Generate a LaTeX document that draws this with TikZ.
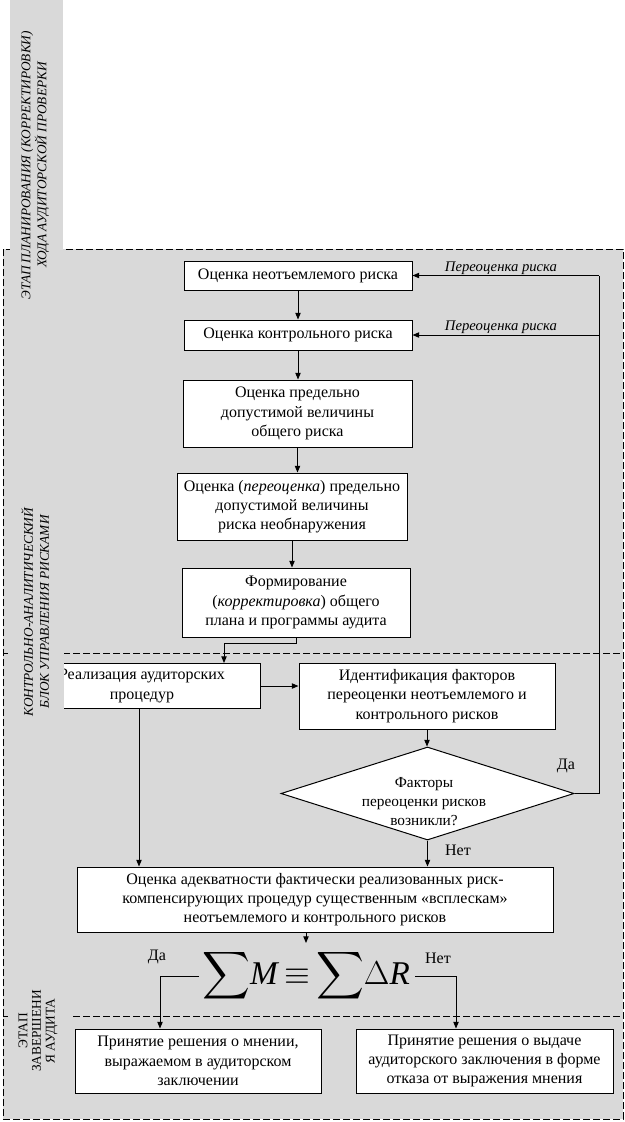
\documentclass[tikz,border=0pt]{standalone}
\usepackage{amsmath}
\usepackage{fontspec}
\setmainfont{Liberation Serif}
\usetikzlibrary{shapes.geometric,arrows.meta}
\definecolor{bg}{RGB}{217,217,217}
\begin{document}
\begin{tikzpicture}[x=0.75pt,y=-0.75pt,
  box/.style={draw,fill=white,line width=0.75pt,inner sep=0pt,align=center,font=\fontsize{12}{14.5}\selectfont},
  bx/.style 2 args={minimum width=#1*0.75pt,minimum height=#2*0.75pt},
  arr/.style={line width=0.75pt,-{Triangle[length=5pt,width=4pt]}},
  ln/.style={line width=0.75pt},
  frame/.style={line width=0.75pt,dash pattern=on 5pt off 2.5pt},
  cover/.style={fill=bg,inner sep=0pt},
  lbl/.style={font=\fontsize{12}{14}\selectfont,inner sep=0pt},
  side/.style={rotate=90,align=center,inner sep=0pt},
]
\useasboundingbox (0,0) rectangle (625,1122);
\fill[bg] (3,249) rectangle (623,1119);
\draw[frame] (3,249) rectangle (623,1119);
\draw[frame] (3,653) -- (623,653);
\draw[frame] (3,1016) -- (623,1016);

\node[box,bx={228}{29}] (b1) at (298,275.5) {Оценка неотъемлемого риска};
\node[box,bx={228}{30}] (b2) at (298,335) {Оценка контрольного риска};
\node[box,bx={229}{67}] (b3) at (297.5,413.5) {Оценка предельно\\допустимой величины\\общего риска};
\node[box,bx={230}{67}] (b4) at (292,506.5) {Оценка (\textit{переоценка}) предельно\\допустимой величины\\риска необнаружения};
\node[box,bx={228}{69}] (b5) at (296,602.5) {Формирование\\(\textit{корректировка}) общего\\плана и программы аудита};

\node[box,bx={210}{45}] (real) at (155,686) {};
\node[align=center,font=\fontsize{12}{14.5}\selectfont,inner sep=0pt] (realt) at (142,686) {Реализация аудиторских\\процедур};
\node[box,bx={256}{66}] (ident) at (427,696) {Идентификация факторов\\переоценки неотъемлемого и\\контрольного рисков};
\node[diamond,draw,fill=white,line width=0.75pt,bx={293}{93},inner sep=0pt] (dia) at (427.5,793.5) {};
\node[align=center,font=\fontsize{11.5}{14}\selectfont,inner sep=0pt] (diat) at (424,801.5) {Факторы\\переоценки рисков\\возникли?};

\node[box,bx={476}{65}] (ad) at (315,899.5) {Оценка адекватности фактически реализованных риск-\\компенсирующих процедур существенным «всплескам»\\неотъемлемого и контрольного рисков};
\node[inner sep=0pt] (f) at (306,976) {\fontsize{24.88}{30}\selectfont$\displaystyle\sum$\textit{M}\,$\equiv$\,$\displaystyle\sum$$\Delta$\textit{R}};
\node[box,bx={246}{64}] (bl) at (198,1061) {Принятие решения о мнении,\\выражаемом в аудиторском\\заключении};
\node[box,bx={257}{64}] (br) at (484.5,1061) {Принятие решения о выдаче\\аудиторского заключения в форме\\отказа от выражения мнения};

% connectors
\draw[arr] (b1.south) -- (b1.south |- b2.north);
\draw[arr] (b2.south) -- (b2.south |- b3.north);
\draw[arr] (b3.south) -- (b3.south |- b4.north);
\draw[arr] (b4.south) -- (b4.south |- b5.north);
\coordinate (c1) at (224,643);
\draw[arr] (b5.south) |- (c1) -- (c1 |- real.north);
\draw[arr] (real.east) -- (real.east -| ident.west);
\draw[arr] (ident.south) -- (ident.south |- dia.north);
\coordinate (rt) at (599,275.5);
\coordinate (r2) at (599,335);
\draw[ln] (dia.east) -| (rt);
\draw[arr] (rt) -- (b1.east);
\draw[arr] (r2) -- (b2.east);
\node[font=\itshape\fontsize{11}{13}\selectfont,inner sep=0pt] (p1) at (501,268) {Переоценка риска};
\node[font=\itshape\fontsize{11}{13}\selectfont,inner sep=0pt] (p2) at (501,327) {Переоценка риска};
\node[lbl] (da1) at (566,766) {Да};
\coordinate (c2) at (139,708.5);
\draw[arr] (c2) -- (c2 |- ad.north);
\draw[arr] (dia.south) -- (dia.south |- ad.north);
\node[lbl] (net1) at (458,850) {Нет};
\coordinate (fa) at (306,943);
\draw[arr] (ad.south -| fa) -- (fa);
\coordinate (fl) at (199,976);
\coordinate (cl) at (160,976);
\draw[arr] (fl) -- (cl) -- (cl |- bl.north);
\coordinate (fr) at (415,976);
\coordinate (cr) at (456,976);
\draw[arr] (fr) -- (cr) -- (cr |- br.north);
\node[lbl] (da2) at (157,957) {Да};
\node[lbl] (net2) at (438,958) {Нет};

% side labels
\node[cover,bx={53}{305}] (L1c) at (36.5,152.5) {};
\node[side,font=\itshape\fontsize{10}{12}\selectfont] (L1) at (35,165) {ЭТАП ПЛАНИРОВАНИЯ (КОРРЕКТИРОВКИ)\\ХОДА АУДИТОРСКОЙ ПРОВЕРКИ};
\node[cover,bx={56}{265}] (L2c) at (36,632.5) {};
\node[side,font=\itshape\fontsize{10}{12}\selectfont] (L2) at (35,612) {КОНТРОЛЬНО-АНАЛИТИЧЕСКИЙ\\БЛОК УПРАВЛЕНИЯ РИСКАМИ};
\node[cover,bx={65}{85}] (L3c) at (40.5,1032.5) {};
\node[side,font=\fontsize{10}{10.2}\selectfont] (L3) at (38,1031) {ЭТАП\\ЗАВЕРШЕНИ\\Я АУДИТА};
\end{tikzpicture}
\end{document}
